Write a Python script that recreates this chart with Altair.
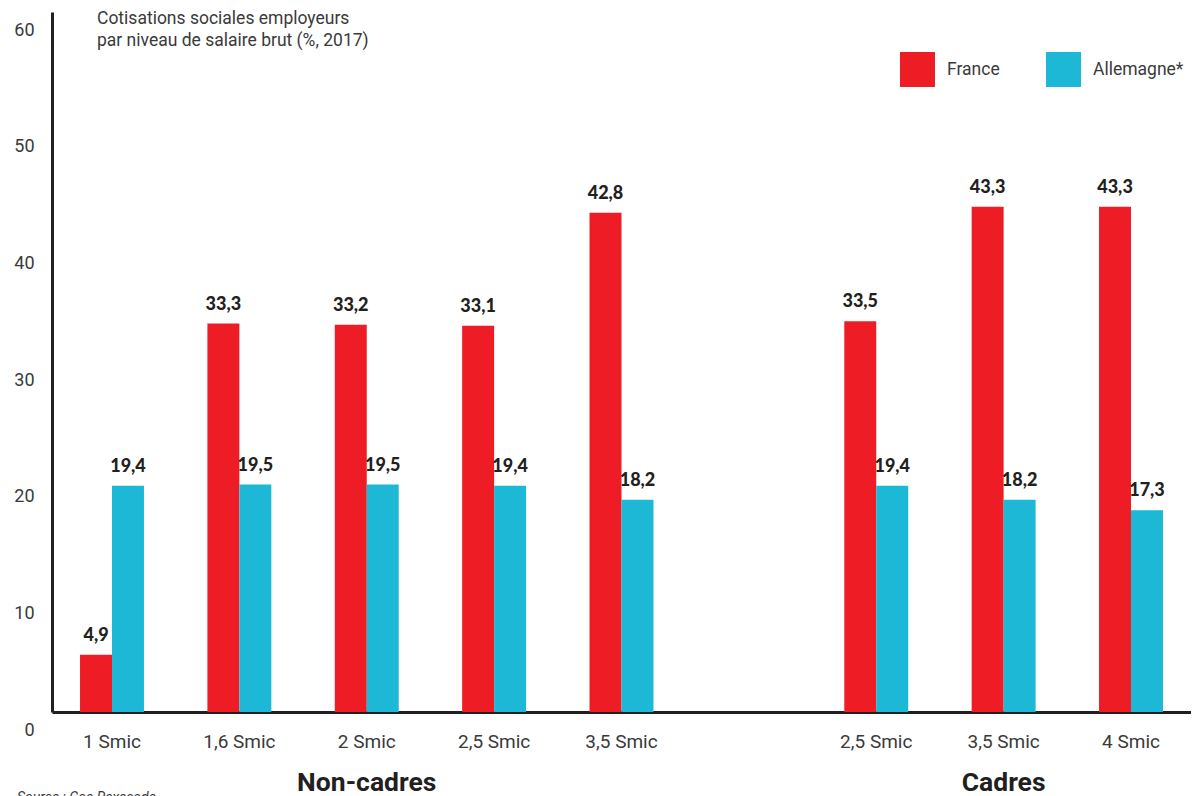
import altair as alt
import pandas as pd

# --- data ---
slot_ids = ["nc1", "nc2", "nc3", "nc4", "nc5", "gap", "c1", "c2", "c3"]
slot_labels = ["1 Smic", "1,6 Smic", "2 Smic", "2,5 Smic", "3,5 Smic", "",
               "2,5 Smic", "3,5 Smic", "4 Smic"]
bar_slots = ["nc1", "nc2", "nc3", "nc4", "nc5", "c1", "c2", "c3"]
france = [4.9, 33.3, 33.2, 33.1, 42.8, 33.5, 43.3, 43.3]
allemagne = [19.4, 19.5, 19.5, 19.4, 18.2, 19.4, 18.2, 17.3]
series = ["France", "Allemagne*"]
colors = ["#EE1D25", "#1DB8D5"]
group_slots = ["nc3", "c2"]
group_names = ["Non-cadres", "Cadres"]
y_ticks = [0, 10, 20, 30, 40, 50, 60]

rows = []
for s, f, a in zip(bar_slots, france, allemagne):
    rows.append({"slot": s, "pays": series[0], "v": f})
    rows.append({"slot": s, "pays": series[1], "v": a})
df = pd.DataFrame(rows)
gdf = pd.DataFrame({"slot": group_slots, "g": group_names})

label_map = "{" + ",".join(f"'{i}':'{l}'" for i, l in zip(slot_ids, slot_labels)) + "}"

TXT = "#3a3a3a"
DARK = "#231f20"

x_enc = alt.X("slot:N", sort=slot_ids,
              scale=alt.Scale(domain=slot_ids, paddingInner=0.498, paddingOuter=0.22,
                              round=False),
              axis=alt.Axis(title=None, labelExpr=label_map + "[datum.value]",
                            labelAngle=0, ticks=False, labelPadding=20,
                            labelFontSize=19, labelColor=TXT, labelFont="Roboto",
                            domainColor=DARK, domainWidth=3))
xo_enc = alt.XOffset("pays:N", sort=series,
                     scale=alt.Scale(domain=series, paddingInner=0, paddingOuter=0,
                                     round=False))
y_enc = alt.Y("v:Q", scale=alt.Scale(domain=[0, 60], nice=False),
              axis=alt.Axis(title=None, values=y_ticks, grid=False, ticks=False,
                            labelPadding=18, labelOffset=18, labelFontSize=18,
                            labelColor=TXT, labelFont="Roboto",
                            domainColor=DARK, domainWidth=3))

bars = alt.Chart(df).mark_bar().encode(
    x=x_enc, xOffset=xo_enc, y=y_enc,
    color=alt.Color("pays:N", sort=series,
                    scale=alt.Scale(domain=series, range=colors),
                    legend=alt.Legend(title=None, orient="none", legendX=848, legendY=40,
                                      direction="horizontal", symbolType="square",
                                      symbolSize=1225, symbolStrokeWidth=0,
                                      labelFontSize=17.5, labelColor=TXT, labelFont="Roboto",
                                      labelOffset=12, columnPadding=46, padding=0)),
)

values = alt.Chart(df).transform_calculate(
    lbl="replace(format(datum.v, '.1f'), '.', ',')"
).mark_text(baseline="bottom", dy=-10, font="Lato", fontWeight=900,
            fontSize=18, color=DARK).encode(
    x=alt.X("slot:N", sort=slot_ids), xOffset=alt.XOffset("pays:N", sort=series),
    y="v:Q", text="lbl:N")

groups = alt.Chart(gdf).mark_text(font="Roboto", fontWeight="bold", fontSize=26.5,
                                  color=DARK, baseline="middle").encode(
    x=alt.X("slot:N", sort=slot_ids), y=alt.value(771), text="g:N")

title = alt.Chart(pd.DataFrame({"t": ["Cotisations sociales employeurs\npar niveau de salaire brut (%, 2017)"]})).mark_text(
    align="left", baseline="top", lineBreak="\n", font="Roboto", fontSize=17.5,
    color=TXT, lineHeight=22).encode(x=alt.value(45), y=alt.value(-2), text="t:N")

source = alt.Chart(pd.DataFrame({"t": ["Source : Coe-Rexecode"]})).mark_text(
    align="left", baseline="top", font="Roboto", fontStyle="italic", fontSize=14,
    color=TXT).encode(x=alt.value(-35), y=alt.value(779), text="t:N")

chart = alt.layer(bars, values, groups, title, source).properties(
    width=1139, height=700,
    autosize=alt.AutoSizeParams(type="none"),
    padding={"left": 44, "top": 4, "right": 0, "bottom": 84},
).configure_view(stroke=None)

chart.save("out.html", embed_options={"renderer": "svg", "actions": False})
